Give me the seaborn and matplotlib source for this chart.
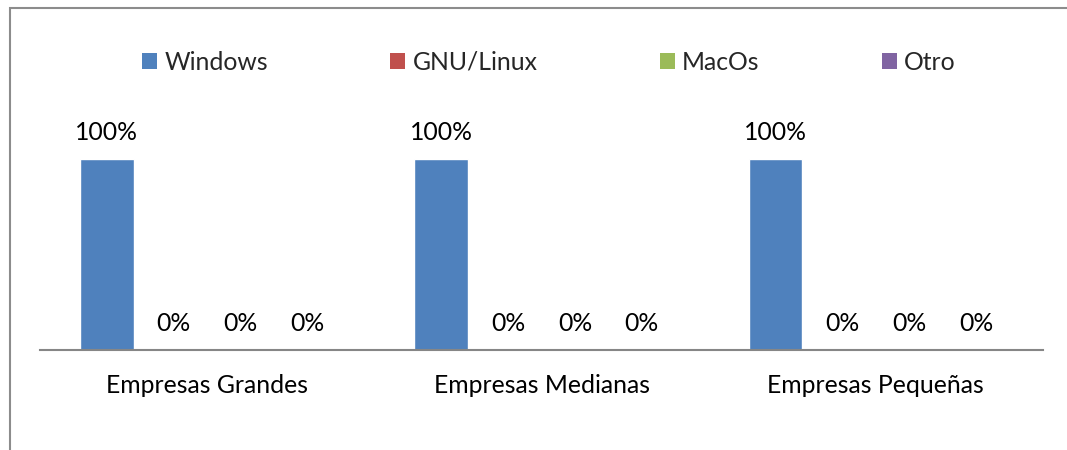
import pandas as pd
import matplotlib
matplotlib.use("Agg")
import matplotlib.pyplot as plt
from matplotlib.patches import Rectangle, Patch
import seaborn as sns

# data
empresas = ["Empresas Grandes", "Empresas Medianas", "Empresas Pequeñas"]
sistemas = ["Windows", "GNU/Linux", "MacOs", "Otro"]
windows = [100, 100, 100]
gnu_linux = [0, 0, 0]
macos = [0, 0, 0]
otro = [0, 0, 0]
colores = ["#4F81BD", "#C0504D", "#9BBB59", "#8064A2"]

valores = {"Windows": windows, "GNU/Linux": gnu_linux, "MacOs": macos, "Otro": otro}
rows = []
for so in sistemas:
    for emp, v in zip(empresas, valores[so]):
        rows.append({"empresa": emp, "so": so, "valor": v})
df = pd.DataFrame(rows)

sns.set_style("white")
plt.rcParams["font.family"] = ["Lato", "DejaVu Sans"]
FS = 17.8

W, H = 1067, 450
fig = plt.figure(figsize=(W / 100, H / 100), dpi=100)
ax = fig.add_axes([40 / W, 100 / H, (1043 - 40) / W, (350 - 120.8) / H])

sns.barplot(data=df, x="empresa", y="valor", hue="so", hue_order=sistemas,
            order=empresas, palette=colores, saturation=1, width=0.8, gap=0.2,
            legend=False, ax=ax)

ax.set_ylim(0, 120)
ax.set_xlim(-0.5, 2.5)
ax.set_xlabel("")
ax.set_ylabel("")
ax.set_yticks([])
ax.tick_params(axis="x", length=0, pad=17, labelsize=FS, labelcolor="black")
for s in ["top", "right", "left"]:
    ax.spines[s].set_visible(False)
ax.spines["bottom"].set_color("#868686")
ax.spines["bottom"].set_linewidth(1.5)

for cont in ax.containers:
    ax.bar_label(cont, labels=[f"{v:.0f}%" for v in cont.datavalues],
                 padding=11, fontsize=FS, color="black")

handles = [Patch(facecolor=c, edgecolor="none") for c in colores]
fig.legend(handles, sistemas, loc="center left",
           bbox_to_anchor=(142 / W, 1 - 62 / H), ncol=4, frameon=False,
           fontsize=FS, handlelength=0.6, handleheight=0.6,
           handletextpad=0.3, columnspacing=4.95, borderpad=0, borderaxespad=0)

# chart border (cropped)
fig.add_artist(Rectangle((10 / W, -0.2), 1.2, 1.2 - 8 / H, fill=False,
                         edgecolor="#8c8c8c", linewidth=1.5,
                         transform=fig.transFigure))

fig.savefig("out.png", dpi=100, facecolor="white")
